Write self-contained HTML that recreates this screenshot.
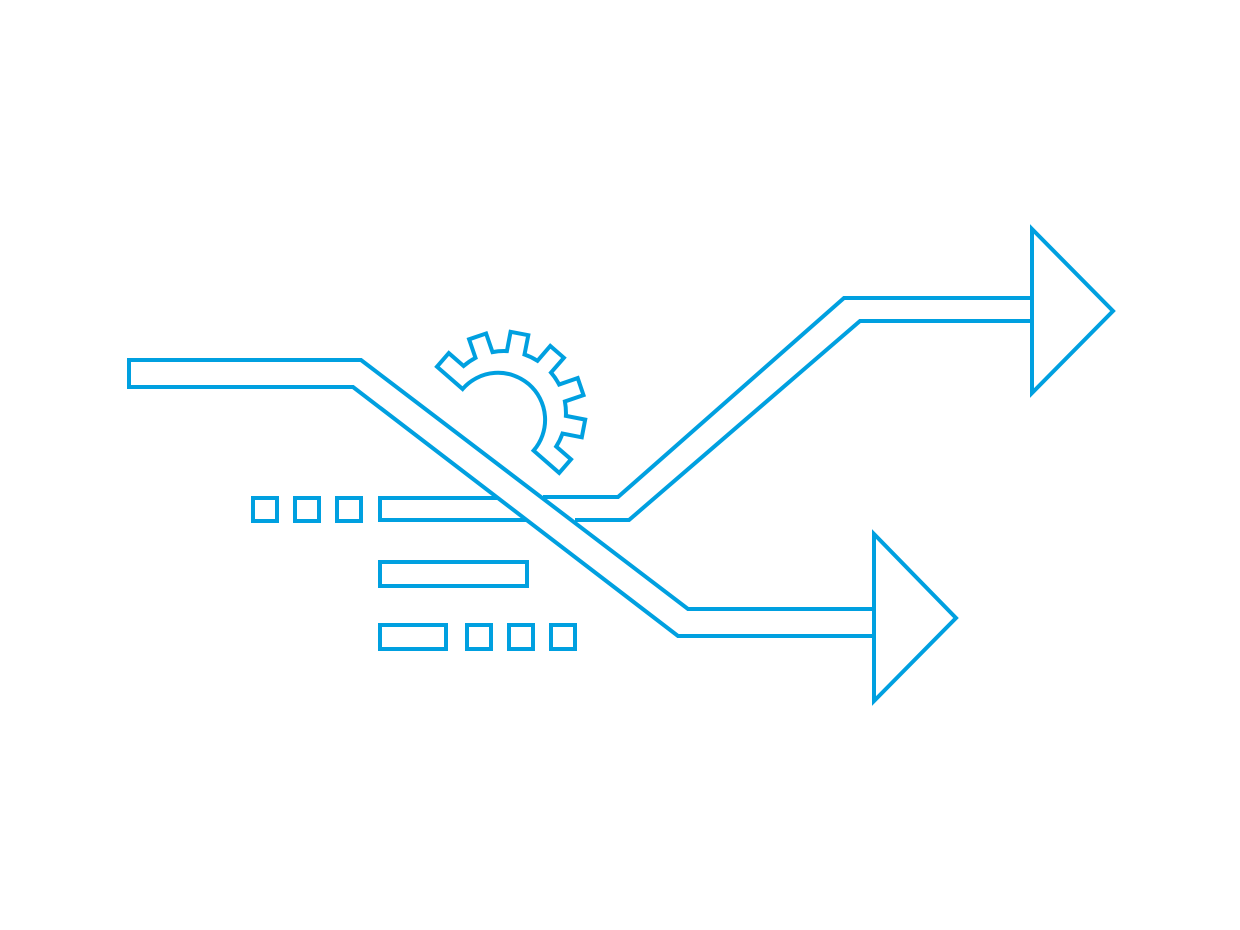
<!DOCTYPE html>
<html><head><meta charset="utf-8"><style>
html,body{margin:0;padding:0;background:#fff;width:1240px;height:930px;overflow:hidden}
svg{display:block}
</style></head><body>
<svg width="1240" height="930" viewBox="0 0 1240 930" xmlns="http://www.w3.org/2000/svg">
<g fill="none" stroke="#00A0E0" stroke-width="4" stroke-linejoin="miter">
<polyline points="873,609 688,609 361,360 129,360 129,387 353,387 678,636 873,636"/>
<polygon points="874,534 956,618 874,701"/>
<polyline points="543,497 618,497 844,298 1031,298"/>
<polyline points="575,520 629,520 860,321 1031,321"/>
<polygon points="1032,229 1113,311 1032,393"/>
<rect x="253" y="498" width="24" height="23"/>
<rect x="295" y="498" width="24" height="23"/>
<rect x="337" y="498" width="24" height="23"/>
<polyline points="497,498 380,498 380,520 527,520"/>
<rect x="380" y="562" width="147" height="24"/>
<rect x="380" y="625" width="66" height="24"/>
<rect x="467" y="625" width="24" height="24"/>
<rect x="509" y="625" width="24" height="24"/>
<rect x="551" y="625" width="24" height="24"/>
<path id="gear" d=""/>
</g>
</svg>
<script>
(function(){
var cx=504,cy=413,ri=46,rb=62,ro=81,hw=9;
function P(a,r,off){var t=a*Math.PI/180;var ux=Math.cos(t),uy=Math.sin(t);var px=-uy,py=ux;return [cx+ux*r+px*off,cy+uy*r+py*off];}
function s(p){return p[0].toFixed(1)+","+p[1].toFixed(1);}
var cs=[];for(var k=0;k<7;k++)cs.push(221+30*k);
var d="";
var st=P(cs[0],ri+1,-hw);
d+="M"+s(st);
for(var k=0;k<cs.length;k++){
 var c=cs[k];
 if(k>0){d+=" L"+s(P(c,Math.sqrt(rb*rb-hw*hw),-hw));}
 d+=" L"+s(P(c,ro,-hw))+" L"+s(P(c,ro,hw));
 if(k<cs.length-1){
  d+=" L"+s(P(c,Math.sqrt(rb*rb-hw*hw),hw));
  d+=" A"+rb+","+rb+" 0 0 1 "+s(P(cs[k+1],Math.sqrt(rb*rb-hw*hw),-hw));
 } else {
  d+=" L"+s(P(c,ri+1,hw));
 }
}
d+=" A"+ri+","+ri+" 0 1 0 "+s(st)+" Z";
document.getElementById("gear").setAttribute("d",d);
})();
</script>
</body></html>
